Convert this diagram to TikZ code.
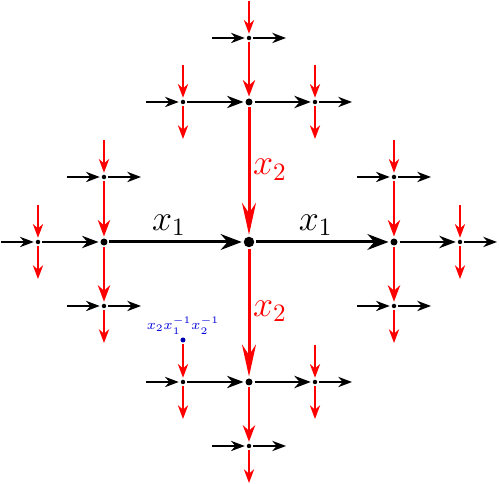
\documentclass[tikz,border=0pt]{standalone}
\usepackage{amsmath}
\usetikzlibrary{arrows.meta}
\tikzset{font=\Large,
	dot0/.style={circle, fill, inner sep=0pt, minimum size=4.2pt, outer sep=0.8pt},
	dot1/.style={circle, fill, inner sep=0pt, minimum size=2.8pt, outer sep=0.8pt},
	dot2/.style={circle, fill, inner sep=0pt, minimum size=1.8pt, outer sep=0.8pt},
	e0/.style={-{Stealth}, line width=1.2pt},
	e1/.style={-{Stealth}, line width=0.8pt},
	e2/.style={-{Stealth}, line width=0.56pt},
	gen2/.style={red},
	long0/.style={-{Stealth[length=12.8pt, width=5.6pt]}},
}

\begin{document}
\begin{tikzpicture}[x=0.4pt, y=0.4pt]
	\useasboundingbox (-249,-242) rectangle (250,242);
	% vertices
	\node[dot0] (c) at (0, 0) {};
	\node[dot1] (r) at (145, 0) {};
	\node[dot1] (l) at (-145, 0) {};
	\node[dot1] (u) at (0, 140) {};
	\node[dot1] (d) at (0, -140) {};

	\node[dot2] (rr) at (211, 0) {};
	\node[dot2] (ru) at (145, 65) {};
	\node[dot2] (rd) at (145, -64) {};
	\node[dot2] (ll) at (-211, 0) {};
	\node[dot2] (lu) at (-145, 65) {};
	\node[dot2] (ld) at (-145, -64) {};
	\node[dot2] (ul) at (-66, 140) {};
	\node[dot2] (ur) at (66, 140) {};
	\node[dot2] (uu) at (0, 204) {};
	\node[dot2] (dl) at (-66, -140) {};
	\node[dot2] (dr) at (66, -140) {};
	\node[dot2] (dd) at (0, -204) {};

	% free ends
	\coordinate (rrR) at (248, 0);   \coordinate (rrU) at (211, 37);   \coordinate (rrD) at (211, -37);
	\coordinate (ruL) at (108, 65);  \coordinate (ruR) at (182, 65);   \coordinate (ruU) at (145, 102);
	\coordinate (rdL) at (108, -64); \coordinate (rdR) at (182, -64);  \coordinate (rdD) at (145, -101);
	\coordinate (llL) at (-248, 0);  \coordinate (llU) at (-211, 37);  \coordinate (llD) at (-211, -37);
	\coordinate (luL) at (-182, 65); \coordinate (luR) at (-108, 65);  \coordinate (luU) at (-145, 102);
	\coordinate (ldL) at (-182, -64);\coordinate (ldR) at (-108, -64); \coordinate (ldD) at (-145, -101);
	\coordinate (ulL) at (-103, 140);\coordinate (ulU) at (-66, 177);  \coordinate (ulD) at (-66, 103);
	\coordinate (urR) at (103, 140); \coordinate (urU) at (66, 177);   \coordinate (urD) at (66, 103);
	\coordinate (uuL) at (-37, 204); \coordinate (uuR) at (37, 204);   \coordinate (uuU) at (0, 241);
	\coordinate (dlL) at (-103, -140);\coordinate (dlD) at (-66, -177);
	\coordinate (drR) at (103, -140); \coordinate (drU) at (66, -103);  \coordinate (drD) at (66, -177);
	\coordinate (ddL) at (-37, -204); \coordinate (ddR) at (37, -204);  \coordinate (ddD) at (0, -241);
	\node[dot2, blue!70!black, minimum size=2pt,
		label={[blue!85!black, font=\scriptsize, scale=0.8, inner sep=0.5pt]above:$x_2x_1^{-1}x_2^{-1}$}] (dlU) at (-66, -98) {};

	% centre edges
	\draw[e0]               (l) -- node[pos=0.45, above, inner sep=2pt] {$x_1$} (c);
	\draw[e0]               (c) -- node[pos=0.45, above, inner sep=2pt] {$x_1$} (r);
	\draw[e0, long0, gen2]  (u) -- node[pos=0.45, right, inner sep=1pt, yshift=-2pt] {$x_2$} (c);
	\draw[e0, long0, gen2]  (c) -- node[pos=0.45, right, inner sep=1pt, yshift=-2pt] {$x_2$} (d);

	% first ring
	\draw[e1]       (r) -- (rr);
	\draw[e1, gen2] (ru) -- (r);
	\draw[e1, gen2] (r) -- (rd);
	\draw[e1]       (ll) -- (l);
	\draw[e1, gen2] (lu) -- (l);
	\draw[e1, gen2] (l) -- (ld);
	\draw[e1]       (ul) -- (u);
	\draw[e1]       (u) -- (ur);
	\draw[e1, gen2] (uu) -- (u);
	\draw[e1]       (dl) -- (d);
	\draw[e1]       (d) -- (dr);
	\draw[e1, gen2] (d) -- (dd);

	% second ring
	\draw[e2]       (rr) -- (rrR);
	\draw[e2, gen2] (rrU) -- (rr);
	\draw[e2, gen2] (rr) -- (rrD);
	\draw[e2]       (ruL) -- (ru);
	\draw[e2]       (ru) -- (ruR);
	\draw[e2, gen2] (ruU) -- (ru);
	\draw[e2]       (rdL) -- (rd);
	\draw[e2]       (rd) -- (rdR);
	\draw[e2, gen2] (rd) -- (rdD);
	\draw[e2]       (llL) -- (ll);
	\draw[e2, gen2] (llU) -- (ll);
	\draw[e2, gen2] (ll) -- (llD);
	\draw[e2]       (luL) -- (lu);
	\draw[e2]       (lu) -- (luR);
	\draw[e2, gen2] (luU) -- (lu);
	\draw[e2]       (ldL) -- (ld);
	\draw[e2]       (ld) -- (ldR);
	\draw[e2, gen2] (ld) -- (ldD);
	\draw[e2]       (ulL) -- (ul);
	\draw[e2, gen2] (ulU) -- (ul);
	\draw[e2, gen2] (ul) -- (ulD);
	\draw[e2]       (ur) -- (urR);
	\draw[e2, gen2] (urU) -- (ur);
	\draw[e2, gen2] (ur) -- (urD);
	\draw[e2]       (uuL) -- (uu);
	\draw[e2]       (uu) -- (uuR);
	\draw[e2, gen2] (uuU) -- (uu);
	\draw[e2]       (dlL) -- (dl);
	\draw[e2, gen2] (dlU) -- (dl);
	\draw[e2, gen2] (dl) -- (dlD);
	\draw[e2]       (dr) -- (drR);
	\draw[e2, gen2] (drU) -- (dr);
	\draw[e2, gen2] (dr) -- (drD);
	\draw[e2]       (ddL) -- (dd);
	\draw[e2]       (dd) -- (ddR);
	\draw[e2, gen2] (dd) -- (ddD);
\end{tikzpicture}
\end{document}
